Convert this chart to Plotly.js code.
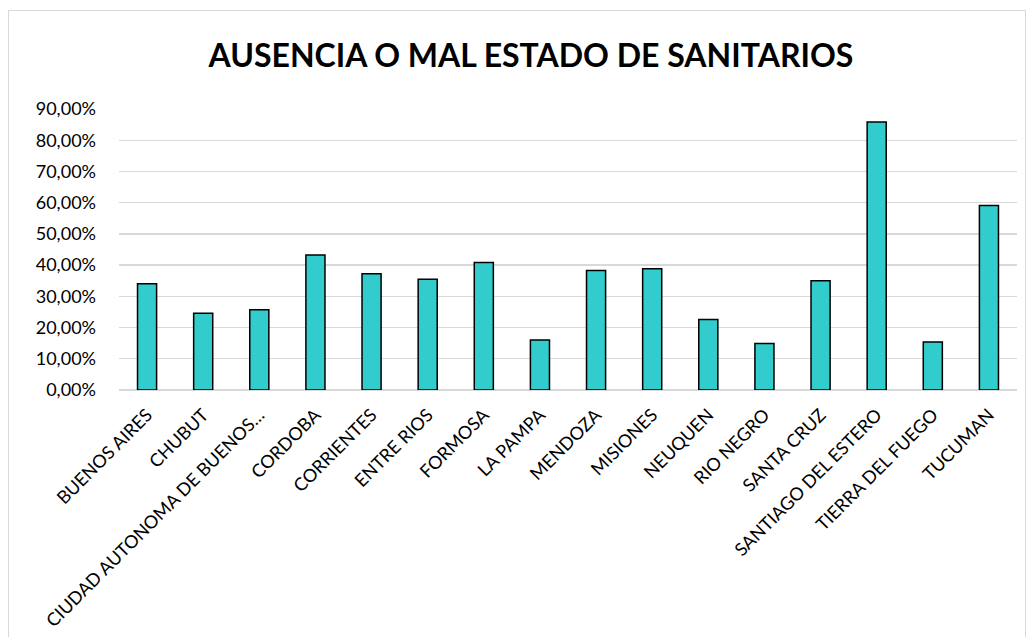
<!DOCTYPE html>
<html>
<head>
<meta charset="utf-8">
<script src="https://cdn.plot.ly/plotly-3.0.1.min.js"></script>
<style>
html,body{margin:0;padding:0;background:#fff;}
#frame{position:absolute;left:8px;top:10px;width:1018px;height:640px;border:1px solid #d9d9d9;box-sizing:border-box;}
#chart{position:absolute;left:0;top:0;width:1035px;height:637px;}
</style>
</head>
<body>
<div id="frame"></div>
<div id="chart"></div>
<script>
const chartTitle = "AUSENCIA O MAL ESTADO DE SANITARIOS";
const provinces = ["BUENOS AIRES","CHUBUT","CIUDAD AUTONOMA DE BUENOS…","CORDOBA","CORRIENTES","ENTRE RIOS","FORMOSA","LA PAMPA","MENDOZA","MISIONES","NEUQUEN","RIO NEGRO","SANTA CRUZ","SANTIAGO DEL ESTERO","TIERRA DEL FUEGO","TUCUMAN"];
const shares = [0.340,0.246,0.257,0.432,0.372,0.355,0.408,0.160,0.383,0.388,0.226,0.149,0.350,0.858,0.154,0.591];
const yTicks = [0,0.1,0.2,0.3,0.4,0.5,0.6,0.7,0.8,0.9];

const FONT = "Lato, 'Open Sans', sans-serif";
Plotly.newPlot("chart", [{
  type: "bar",
  x: provinces,
  y: shares,
  marker: {color: "#33CCCC", line: {color: "#000000", width: 1.5}},
  hoverinfo: "x+y"
}], {
  width: 1035, height: 637,
  margin: {l: 119, r: 18, t: 109, b: 247},
  paper_bgcolor: "rgba(0,0,0,0)",
  plot_bgcolor: "rgba(0,0,0,0)",
  separators: ",.",
  bargap: 0.66,
  showlegend: false,
  title: {text: "<b>" + chartTitle + "</b>", x: 0.513, xanchor: "center", y: 0.913, yanchor: "middle",
          font: {family: FONT, size: 32, color: "#000"}},
  xaxis: {type: "category", tickangle: -45, showgrid: false, showline: false, zeroline: false,
          ticks: "", ticklabelstandoff: 10, tickfont: {family: FONT, size: 18, color: "#000"}, automargin: false},
  yaxis: {range: [0, 0.9], tickvals: yTicks, tickformat: ".2%", showgrid: true, gridcolor: "#d9d9d9",
          gridwidth: 1.3, zeroline: true, zerolinecolor: "#d9d9d9", zerolinewidth: 1.3, showline: false,
          ticks: "", ticklabelstandoff: 22, tickfont: {family: FONT, size: 18, color: "#000"}, automargin: false}
}, {displayModeBar: false, staticPlot: true});
</script>
</body>
</html>
